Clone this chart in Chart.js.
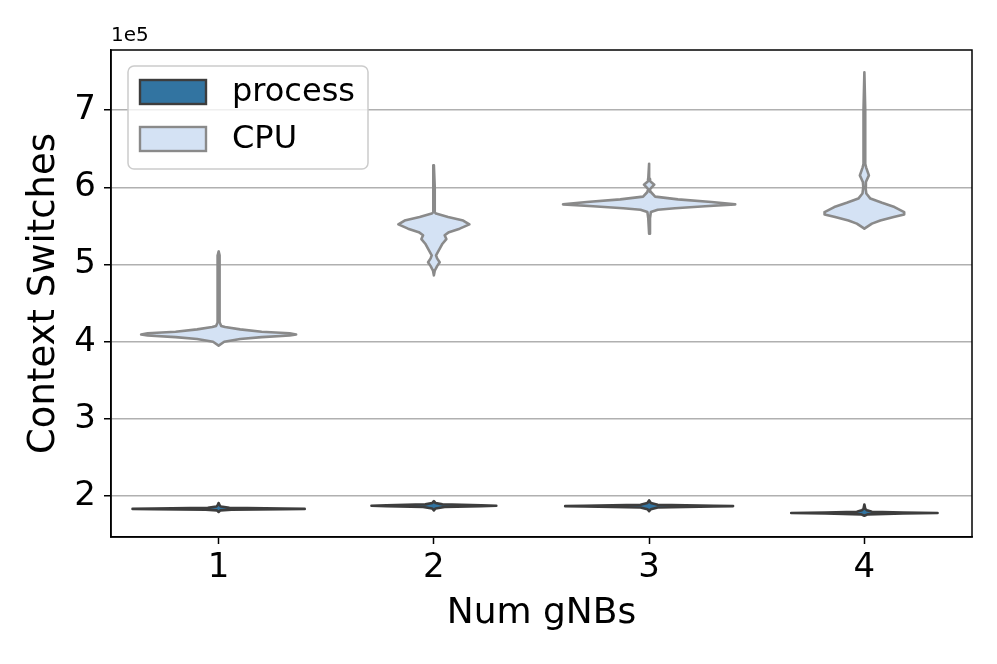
<!DOCTYPE html>
<html>
<head>
<meta charset="utf-8">
<script src="https://cdn.jsdelivr.net/npm/chart.js@4.4.1/dist/chart.umd.min.js"></script>
<style>
    html, body { margin: 0; padding: 0; background: #fff; }
    #wrap { width: 997px; height: 664px; }
</style>
</head>
<body>
<div id="wrap"><canvas id="Canvas-Main" width="997" height="664"></canvas></div>
<script>
// x positions of the groups and y ticks (counts)
const gnbs = [1, 2, 3, 4];
const yTicks = [200000, 300000, 400000, 500000, 600000, 700000];

// violin outlines: levels (context switches) and half widths (in group units)
const cpuLevels = [
    [395000, 400000, 403500, 406000, 408000, 409500, 411000, 413000, 416000, 419000, 420500, 425000, 460000, 500000, 508000, 512000, 517000],
    [486000, 492000, 498000, 503000, 508000, 512000, 520000, 527000, 533000, 538000, 542000, 546500, 552000, 557000, 561500, 566000, 568000, 600000, 628500],
    [540000, 560000, 568000, 571000, 573000, 575500, 578000, 581000, 584500, 588000, 594000, 598000, 603500, 608000, 611000, 630700],
    [546500, 553000, 557000, 561500, 565000, 568000, 574500, 580000, 585500, 592000, 600500, 607000, 615500, 626000, 630700, 700000, 749000]
];
const cpuWidths = [
    [0, 0.026, 0.1, 0.2, 0.33, 0.36, 0.33, 0.2, 0.1, 0.03, 0.012, 0.005, 0.004, 0.004, 0.006, 0.004, 0],
    [0, 0.004, 0.015, 0.027, 0.015, 0.01, 0.026, 0.04, 0.058, 0.05, 0.07, 0.12, 0.165, 0.136, 0.066, 0.01, 0.004, 0.004, 0],
    [0, 0.004, 0.008, 0.04, 0.12, 0.26, 0.40, 0.29, 0.134, 0.028, 0.008, 0.005, 0.024, 0.005, 0.004, 0],
    [0, 0.035, 0.074, 0.136, 0.185, 0.185, 0.14, 0.082, 0.028, 0.009, 0.005, 0.007, 0.021, 0.008, 0.004, 0.004, 0]
];
const processLevels = [
    [179500, 181500, 182300, 183000, 183400, 183900, 184800, 186500, 188500, 191000],
    [181500, 184000, 185800, 186900, 187500, 188100, 189300, 191000, 193500],
    [180500, 183000, 185200, 186500, 187000, 187500, 188800, 191000, 194500],
    [174500, 176300, 177400, 178000, 178600, 179700, 181500, 183500, 189000]
];
const processWidths = [
    [0, 0.008, 0.06, 0.3, 0.40, 0.3, 0.05, 0.01, 0.004, 0],
    [0, 0.008, 0.05, 0.22, 0.29, 0.22, 0.04, 0.008, 0],
    [0, 0.008, 0.04, 0.3, 0.39, 0.3, 0.04, 0.008, 0],
    [0, 0.015, 0.18, 0.34, 0.18, 0.035, 0.012, 0.004, 0]
];

const processFill = '#3274a1';
const processEdge = '#3d3d3d';
const cpuFill = '#d4e2f4';
const cpuEdge = '#8a8a8a';

function outline(center, levels, widths) {
    var right = levels.map((v, i) => ({ x: center + widths[i], y: v }));
    var left = levels.map((v, i) => ({ x: center - widths[i], y: v })).reverse();
    return right.concat(left);
}

function violinSet(label, center, levels, widths, fill, edge) {
    return {
        label: label,
        data: outline(center, levels, widths),
        showLine: true,
        backgroundColor: fill,
        borderColor: edge,
        borderWidth: 2.6,
        borderJoinStyle: 'round',
        borderCapStyle: 'round',
        pointRadius: 0,
        pointHoverRadius: 0,
        tension: 0,
        fill: false
    };
}

var datasets = [];
gnbs.forEach(function (g, i) {
    datasets.push(violinSet('CPU', g, cpuLevels[i], cpuWidths[i], cpuFill, cpuEdge));
});
gnbs.forEach(function (g, i) {
    datasets.push(violinSet('process', g, processLevels[i], processWidths[i], processFill, processEdge));
});

// fill each violin under its outline
const violinFill = {
    id: 'violinFill',
    beforeDatasetDraw(chart, args) {
        var pts = args.meta.data;
        if (!pts.length) return;
        var ctx = chart.ctx;
        ctx.save();
        ctx.beginPath();
        ctx.moveTo(pts[0].x, pts[0].y);
        for (var i = 1; i < pts.length; i++) ctx.lineTo(pts[i].x, pts[i].y);
        ctx.closePath();
        ctx.fillStyle = chart.data.datasets[args.index].backgroundColor;
        ctx.fill();
        ctx.restore();
    }
};

// top/right spines, offset text and the framed legend
const frame = {
    id: 'frame',
    afterDraw(chart) {
        var ctx = chart.ctx;
        var a = chart.chartArea;
        ctx.save();
        ctx.strokeStyle = '#000';
        ctx.lineWidth = 1.5;
        ctx.strokeRect(a.left, a.top, a.right - a.left, a.bottom - a.top);

        ctx.fillStyle = '#000';
        ctx.font = '20px "DejaVu Sans"';
        ctx.textAlign = 'left';
        ctx.textBaseline = 'bottom';
        ctx.fillText('1e5', a.left, a.top - 4);

        var lx = a.left + 17, ly = a.top + 16;
        ctx.beginPath();
        ctx.roundRect(lx, ly, 240, 103, 6);
        ctx.fillStyle = 'rgba(255,255,255,0.8)';
        ctx.fill();
        ctx.strokeStyle = '#cccccc';
        ctx.lineWidth = 1.5;
        ctx.stroke();

        var items = [
            { text: 'process', fill: processFill, edge: processEdge },
            { text: 'CPU', fill: cpuFill, edge: cpuEdge }
        ];
        items.forEach(function (it, i) {
            var y = ly + 14 + i * 47;
            ctx.fillStyle = it.fill;
            ctx.fillRect(lx + 12, y, 66, 24);
            ctx.strokeStyle = it.edge;
            ctx.lineWidth = 2.4;
            ctx.strokeRect(lx + 12, y, 66, 24);
            ctx.fillStyle = '#000';
            ctx.font = '32px "DejaVu Sans"';
            ctx.textBaseline = 'middle';
            ctx.fillText(it.text, lx + 104, y + 13);
        });
        ctx.restore();
    }
};

Chart.defaults.font.family = '"DejaVu Sans", sans-serif';
Chart.defaults.color = '#000';

var ctx = document.getElementById('Canvas-Main').getContext('2d');
var myChart = new Chart(ctx, {
    type: 'scatter',
    data: { datasets: datasets },
    options: {
        responsive: false,
        animation: false,
        layout: { padding: { top: 50, right: 25, left: 0, bottom: 0 } },
        plugins: {
            legend: { display: false },
            tooltip: { enabled: false }
        },
        scales: {
            x: {
                type: 'linear',
                min: 0.5,
                max: 4.5,
                afterBuildTicks: function (axis) {
                    axis.ticks = gnbs.map(v => ({ value: v }));
                },
                afterFit: function (axis) {
                    axis.height = 127;
                },
                ticks: {
                    font: { size: 34 },
                    padding: 4,
                    callback: v => String(v)
                },
                grid: {
                    drawOnChartArea: false,
                    tickLength: 7,
                    tickColor: '#000',
                    tickWidth: 1.5
                },
                border: { color: '#000', width: 1.5 },
                title: {
                    display: true,
                    text: 'Num gNBs',
                    font: { size: 36 },
                    padding: { top: 0, bottom: 29 }
                }
            },
            y: {
                min: 147000,
                max: 778000,
                afterBuildTicks: function (axis) {
                    axis.ticks = yTicks.map(v => ({ value: v }));
                },
                afterFit: function (axis) {
                    axis.width = 111;
                },
                ticks: {
                    font: { size: 34 },
                    padding: 8,
                    callback: v => String(v / 100000)
                },
                grid: {
                    color: '#b0b0b0',
                    lineWidth: 1.5,
                    tickLength: 7,
                    tickColor: '#000',
                    tickWidth: 1.5
                },
                border: { color: '#000', width: 1.5 },
                title: {
                    display: true,
                    text: 'Context Switches',
                    font: { size: 37 },
                    padding: { top: 22, bottom: 0 }
                }
            }
        }
    },
    plugins: [violinFill, frame]
});
</script>
</body>
</html>
